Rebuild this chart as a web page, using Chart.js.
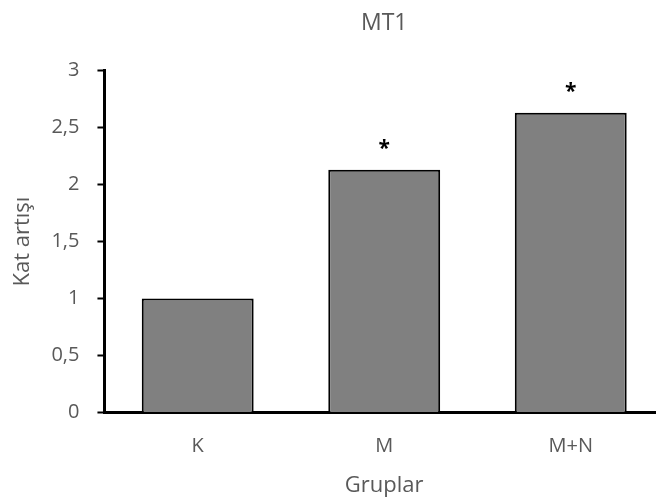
<!DOCTYPE html>
<html><head><meta charset="utf-8">
<script src="https://cdn.jsdelivr.net/npm/chart.js@4"></script>
<style>html,body{margin:0;padding:0;overflow:hidden;background:#fff;width:656px;height:499px}#wrap{position:relative;width:656px;height:499px;overflow:hidden}#c{position:absolute;left:0;top:0}</style>
</head><body><div id="wrap"><canvas id="c" width="780" height="499"></canvas></div>
<script>
const categories = ['K', 'M', 'M+N'];
const values = [1.0, 2.13, 2.63];
const marks = ['', '*', '*'];
const chartTitle = 'MT1';
const xTitle = 'Gruplar';
const yTitle = 'Kat artışı';

const FONT = "'Open Sans', 'DejaVu Sans', sans-serif";
const TXT = '#595959';

const starPlugin = {
  id: 'stars',
  afterDatasetsDraw(chart) {
    const ctx = chart.ctx;
    const meta = chart.getDatasetMeta(0);
    ctx.save();
    ctx.font = 'bold 21px ' + FONT;
    ctx.fillStyle = '#000';
    ctx.textAlign = 'center';
    ctx.textBaseline = 'bottom';
    meta.data.forEach((bar, i) => {
      if (marks[i]) ctx.fillText(marks[i], bar.x, bar.y - 10);
    });
    ctx.restore();
  }
};

new Chart(document.getElementById('c'), {
  type: 'bar',
  data: {
    labels: categories,
    datasets: [{
      data: values,
      backgroundColor: '#808080',
      borderColor: '#000',
      borderWidth: 2,
      categoryPercentage: 1.0,
      barPercentage: 0.6
    }]
  },
  options: {
    responsive: false,
    animation: false,
    layout: { padding: { top: 10, right: 116, left: 10, bottom: 0 } },
    plugins: {
      legend: { display: false },
      tooltip: { enabled: false },
      title: {
        display: true, text: chartTitle, color: TXT, fullSize: false,
        font: { family: FONT, size: 23, weight: 'normal' },
        padding: { top: 0, bottom: 33 }
      }
    },
    scales: {
      x: {
        grid: { display: false, drawTicks: false },
        border: { display: true, color: '#000', width: 3 },
        ticks: { color: TXT, font: { family: FONT, size: 20 }, padding: 22 },
        title: { display: true, text: xTitle, color: TXT, font: { family: FONT, size: 22 }, padding: { top: -8, bottom: 0 } }
      },
      y: {
        min: 0, max: 3,
        grid: { drawOnChartArea: false, drawTicks: true, tickLength: 7, color: '#000', tickWidth: 2 },
        border: { display: true, color: '#000', width: 3 },
        ticks: {
          stepSize: 0.5, color: TXT, font: { family: FONT, size: 20 }, padding: 18,
          callback: v => String(v).replace('.', ',')
        },
        title: { display: true, text: yTitle, color: TXT, font: { family: FONT, size: 22 }, padding: { top: 0, bottom: -3 } }
      }
    }
  },
  plugins: [starPlugin]
});
</script></body></html>
